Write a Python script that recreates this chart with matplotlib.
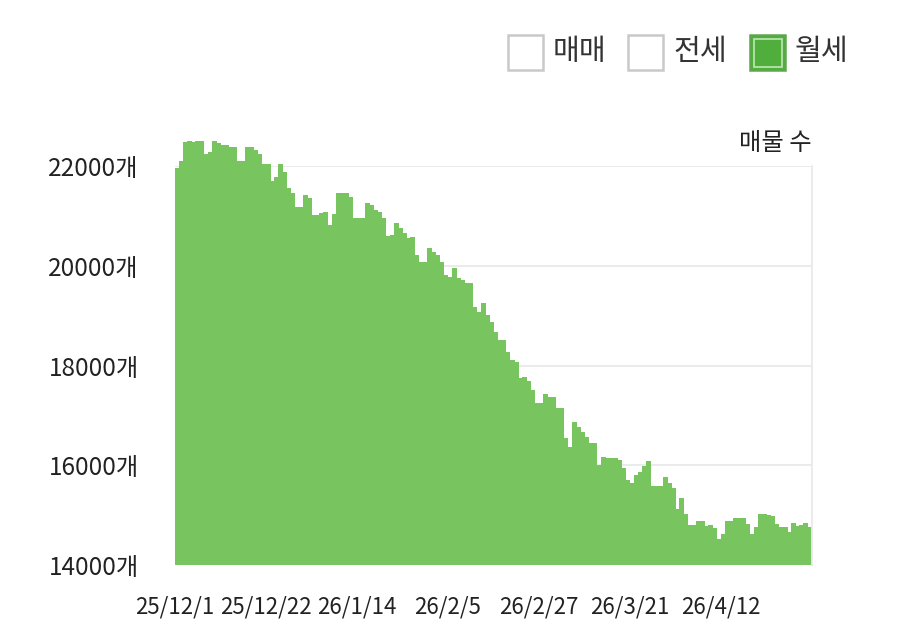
import matplotlib
matplotlib.use("Agg")
import matplotlib.pyplot as plt
from matplotlib.patches import Rectangle
import numpy as np

plt.rcParams['font.family'] = ['Noto Sans CJK KR', 'DejaVu Sans']

# ---- data ----
listings = [
    21960, 22100, 22490, 22510, 22490, 22510, 22510, 22250, 22290, 22510,
    22470, 22420, 22420, 22390, 22390, 22110, 22110, 22380, 22380, 22320,
    22250, 22050, 22050, 21700, 21770, 22050, 21870, 21550, 21460, 21180,
    21180, 21420, 21350, 21020, 21020, 21050, 21080, 20820, 21040, 21460,
    21450, 21450, 21370, 20950, 20950, 20950, 21250, 21220, 21120, 21080,
    20950, 20600, 20620, 20850, 20750, 20660, 20550, 20570, 20220, 20080,
    20080, 20350, 20280, 20220, 20080, 19810, 19780, 19950, 19750, 19710,
    19650, 19650, 19180, 19080, 19250, 19010, 18880, 18680, 18510, 18510,
    18280, 18110, 18070, 17740, 17770, 17690, 17510, 17240, 17240, 17420,
    17370, 17370, 17140, 17140, 16540, 16370, 16870, 16770, 16670, 16560,
    16440, 16440, 16000, 16170, 16140, 16140, 16140, 16100, 15940, 15700,
    15640, 15800, 15870, 15980, 16090, 15580, 15580, 15580, 15770, 15650,
    15540, 15130, 15350, 15030, 14810, 14810, 14890, 14890, 14780, 14810,
    14740, 14530, 14620, 14890, 14890, 14940, 14940, 14940, 14830, 14620,
    14760, 15030, 15030, 15010, 14980, 14830, 14760, 14760, 14660, 14850,
    14780, 14810, 14850, 14760,
]
tick_index = [0, 22, 44, 66, 88, 110, 132]
tick_labels = ["25/12/1", "25/12/22", "26/1/14", "26/2/5", "26/2/27", "26/3/21", "26/4/12"]
y_ticks = [14000, 16000, 18000, 20000, 22000]
y_labels = ["14000개", "16000개", "18000개", "20000개", "22000개"]
legend_items = ["매매", "전세", "월세"]
Y_MIN, Y_MAX = 14000, 22000

BAR = '#78c45e'
GRID = '#e9e9e9'
TXT = '#222222'

fig = plt.figure(figsize=(9, 6.4), dpi=100)
ax = fig.add_axes([175/900, 1-565/640, 637/900, 399/640])

x = np.arange(len(listings))
vals = np.array(listings, dtype=float)
# slightly overlapping bars so no seams appear between neighbouring days
ax.bar(x, vals - Y_MIN, bottom=Y_MIN, width=1.2, color=BAR,
       linewidth=0, clip_on=False, zorder=2)

ax.set_xlim(-0.5, len(listings) - 0.5)
ax.set_ylim(Y_MIN, Y_MAX)
ax.set_yticks(y_ticks)
ax.set_yticklabels(y_labels, fontsize=17.5, color=TXT)
ax.set_xticks(np.array(tick_index) - 0.5)
ax.set_xticklabels(tick_labels, fontsize=16, color=TXT)
ax.tick_params(axis='both', length=0)
ax.tick_params(axis='y', pad=26)
ax.tick_params(axis='x', pad=22)

ax.set_axisbelow(True)
ax.yaxis.grid(True, color=GRID, linewidth=1.3, zorder=0)
ax.xaxis.grid(False)
for s in ['top', 'left', 'bottom']:
    ax.spines[s].set_visible(False)
ax.spines['right'].set_color(GRID)
ax.spines['right'].set_linewidth(1.3)
ax.spines['right'].set_zorder(3)

fig.text(812/900, 1-143/640, "매물 수", ha='right', va='center',
         fontsize=17.5, color=TXT)

# legend (checkbox style)
box_x = [508, 628, 750]
txt_x = [553, 673, 795]
bw, bh = 35, 35
by = 35
for i, lab in enumerate(legend_items):
    x0 = box_x[i] / 900
    y0 = 1 - (by + bh) / 640
    if i < 2:
        fig.patches.append(Rectangle((x0, y0), bw/900, bh/640, transform=fig.transFigure,
                                     facecolor='white', edgecolor='#c9c9c9', linewidth=1.8))
    else:
        fig.patches.append(Rectangle((x0, y0), bw/900, bh/640, transform=fig.transFigure,
                                     facecolor='#4fae3c', edgecolor='#5aa84a', linewidth=1.8))
        ins = 3.5
        fig.patches.append(Rectangle(((box_x[i]+ins)/900, 1-(by+bh-ins)/640),
                                     (bw-2*ins)/900, (bh-2*ins)/640,
                                     transform=fig.transFigure, facecolor='none',
                                     edgecolor='#b8e4ac', linewidth=1.3))
    fig.text(txt_x[i]/900, 1-(by+bh/2)/640, lab, ha='left', va='center',
             fontsize=21, color='#333333')

fig.savefig("out.png", dpi=100, facecolor='white')
